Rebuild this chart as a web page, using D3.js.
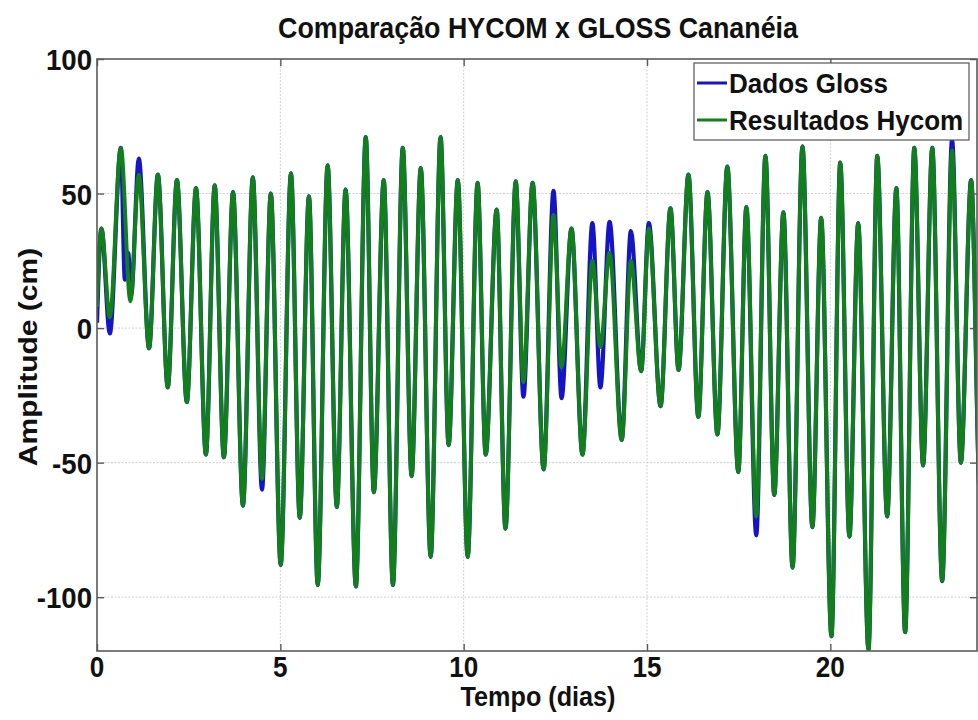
<!DOCTYPE html>
<html><head><meta charset="utf-8">
<script src="https://cdn.jsdelivr.net/npm/d3@7"></script>
<style>
body{margin:0;background:#fff}
svg text{font-family:"Liberation Sans",Arial,Helvetica,sans-serif;font-weight:bold;fill:#111}
</style>
</head><body>
<svg id="chart" width="978" height="720"></svg>
<script>
// ---- data ----
const title = "Comparação HYCOM x GLOSS Cananéia";
const xLabel = "Tempo (dias)";
const yLabel = "Amplitude (cm)";
const seriesNames = ["Dados Gloss", "Resultados Hycom"];
const xTicks = [0, 5, 10, 15, 20];
const yTicks = [-100, -50, 0, 50, 100];

// Dados Gloss (observed): time in days, amplitude in cm
const glossT = [0.00,0.12,0.35,0.65,0.76,0.85,0.93,1.14,1.42,1.66,1.93,2.18,2.45,2.70,2.97,3.21,3.46,3.71,3.98,4.25,4.50,4.74,5.01,5.29,5.53,5.78,6.02,6.29,6.54,6.78,7.06,7.33,7.55,7.82,8.07,8.34,8.58,8.83,9.10,9.37,9.59,9.84,10.11,10.38,10.60,10.90,11.14,11.42,11.63,11.88,12.18,12.45,12.67,12.94,13.24,13.51,13.73,13.98,14.31,14.56,14.84,15.05,15.37,15.64,15.86,16.13,16.40,16.65,16.92,17.19,17.49,17.71,17.98,18.23,18.47,18.72,18.97,19.24,19.51,19.75,20.03,20.27,20.52,20.76,21.04,21.28,21.55,21.80,22.04,22.29,22.53,22.78,23.05,23.32,23.56,23.84,24.09,24.35];
const glossV = [2,37,-2,67,18,28,12,63,-7.5,57,-22,55,-27.5,52,-47,53,-48,50.5,-66,56,-60,50,-88,57.5,-70.5,49,-95.5,60.5,-66.5,51.5,-96,71,-61,55,-95.5,67,-55,59.5,-85,71,-43.5,55,-85,54,-47,44,-74.5,54.5,-25.5,54,-52.5,51,-26,37,-47,39,-22,39.5,-41.5,36,-16,39,-29,44.5,-15.5,57,-33,50.5,-39.5,60,-53.5,45,-77,64,-62,43,-89,67.5,-74,41,-114.5,61.5,-77.5,39,-119.5,64,-70,52,-113,67,-51,67,-94,70,-50,55,-65,50];

// Resultados Hycom (model): time in days, amplitude in cm
const hycomT = [0.00,0.12,0.35,0.65,0.91,1.14,1.42,1.66,1.93,2.18,2.45,2.70,2.97,3.21,3.46,3.71,3.98,4.25,4.50,4.74,5.01,5.29,5.53,5.78,6.02,6.29,6.54,6.78,7.06,7.33,7.55,7.82,8.07,8.34,8.58,8.83,9.10,9.37,9.59,9.84,10.11,10.38,10.60,10.90,11.14,11.42,11.63,11.88,12.18,12.45,12.67,12.94,13.24,13.51,13.73,13.98,14.31,14.56,14.84,15.05,15.37,15.64,15.86,16.13,16.40,16.65,16.92,17.19,17.49,17.71,17.98,18.23,18.47,18.72,18.97,19.24,19.51,19.75,20.03,20.27,20.52,20.76,21.04,21.28,21.55,21.80,22.04,22.29,22.53,22.78,23.05,23.32,23.56,23.84,24.09,24.35];
const hycomV = [8,37,4,67,10,57,-7.5,57,-22,55,-27.5,52,-47,53,-48,50.5,-66,56,-56,50,-88,57.5,-70.5,49,-95.5,60.5,-66.5,51.5,-96,71,-61,55,-95.5,67,-55,59.5,-85,71,-43.5,55,-85,54,-47,44,-74.5,54.5,-20,54,-52.5,42,-14.5,37,-47,25,-7,28,-41.5,25,-16,37,-29,44.5,-15.5,57,-33,50.5,-39.5,60,-53.5,45,-70,64,-62,43,-89,67.5,-74,41,-114.5,61.5,-77.5,39,-119.5,64,-70,52,-113,67,-51,67,-94,66,-50,55,-65,50];

const colors = ["#1515c8", "#12801a"];

// ---- layout ----
const svg = d3.select("#chart");
const L = 97, R = 977, T = 59, B = 651;
const x = d3.scaleLinear().domain([0, 24]).range([L, R]);
const y = d3.scaleLinear().domain([-120, 100]).range([B, T]);

svg.append("rect").attr("width", 978).attr("height", 720).attr("fill", "#fff");

svg.append("defs").append("clipPath").attr("id", "clip")
  .append("rect").attr("x", L).attr("y", T).attr("width", R - L).attr("height", B - T);

// grid
const grid = svg.append("g").attr("stroke", "#cfcfcf").attr("stroke-width", 1).attr("stroke-dasharray", "2,1.5");
grid.selectAll("line.gx").data(xTicks.filter(d => d > 0)).join("line")
  .attr("x1", d => x(d)).attr("x2", d => x(d)).attr("y1", T).attr("y2", B);
grid.selectAll("line.gy").data(yTicks.filter(d => d > -120 && d < 100)).join("line")
  .attr("x1", L).attr("x2", R).attr("y1", d => y(d)).attr("y2", d => y(d));

// series
const line = d3.line().x(d => x(d[0])).y(d => y(d[1])).curve(d3.curveMonotoneX);
const gloss = glossT.map((t, i) => [t, glossV[i]]);
const hycom = hycomT.map((t, i) => [t, hycomV[i]]);
const plot = svg.append("g").attr("clip-path", "url(#clip)");
plot.append("path").datum(gloss).attr("d", line).attr("fill", "none")
  .attr("stroke", colors[0]).attr("stroke-width", 4.2).attr("stroke-linejoin", "round");
plot.append("path").datum(hycom).attr("d", line).attr("fill", "none")
  .attr("stroke", colors[1]).attr("stroke-width", 4).attr("stroke-linejoin", "round");

// axes box
svg.append("rect").attr("x", L).attr("y", T).attr("width", R - L).attr("height", B - T)
  .attr("fill", "none").attr("stroke", "#5a5a5a").attr("stroke-width", 1.6);

// axes (inward ticks) using d3 axes
const axB = svg.append("g").attr("transform", `translate(0,${B})`)
  .call(d3.axisTop(x).tickValues(xTicks).tickSize(7).tickFormat(""));
const axT = svg.append("g").attr("transform", `translate(0,${T})`)
  .call(d3.axisBottom(x).tickValues(xTicks).tickSize(7).tickFormat(""));
const axLft = svg.append("g").attr("transform", `translate(${L},0)`)
  .call(d3.axisRight(y).tickValues(yTicks).tickSize(7).tickFormat(""));
const axRgt = svg.append("g").attr("transform", `translate(${R},0)`)
  .call(d3.axisLeft(y).tickValues(yTicks).tickSize(7).tickFormat(""));
[axB, axT, axLft, axRgt].forEach(g => {
  g.select(".domain").remove();
  g.selectAll(".tick line").attr("stroke", "#5a5a5a").attr("stroke-width", 1.4);
});

// text helper (figure was horizontally squeezed)
function txt(px, py, s, size, anchor, sx, rot) {
  const t = svg.append("text")
    .attr("transform", rot ? `translate(${px},${py}) rotate(${rot}) scale(1,${sx})`
                           : `translate(${px},${py}) scale(${sx},1)`)
    .attr("text-anchor", anchor).attr("font-size", size).text(s);
  return t;
}

// tick labels
xTicks.forEach(d => txt(x(d), 677, String(d), 29, "middle", 0.9));
yTicks.forEach(d => txt(92, y(d) + 11, String(d), 30, "end", 0.92));

// titles
txt(538, 38, title, 30, "middle", 0.894);
txt(538, 706, xLabel, 28, "middle", 0.9);
txt(37, 357, yLabel, 30, "middle", 0.88, -90);

// legend
const lg = svg.append("g");
lg.append("rect").attr("x", 694).attr("y", 63).attr("width", 275).attr("height", 77)
  .attr("fill", "#fff").attr("stroke", "#555").attr("stroke-width", 1.2);
seriesNames.forEach((n, i) => {
  const yy = 83 + i * 37;
  lg.append("line").attr("x1", 697).attr("x2", 727).attr("y1", yy).attr("y2", yy)
    .attr("stroke", colors[i]).attr("stroke-width", 3);
  txt(729, yy + 10, n, 28, "start", 0.93);
});
</script>
</body></html>
